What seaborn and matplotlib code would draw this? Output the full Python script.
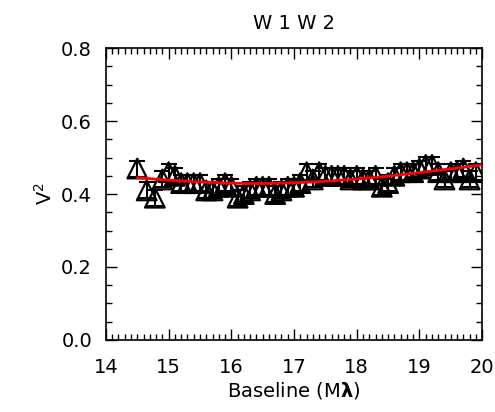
import numpy as np
import pandas as pd
import matplotlib
matplotlib.use('Agg')
import matplotlib.pyplot as plt
import seaborn as sns
from matplotlib.ticker import MultipleLocator, FormatStrFormatter

# 관측값 (baseline, V^2, 오차)
baseline = [14.50, 14.65, 14.78, 14.90, 15.00, 15.10, 15.20, 15.30, 15.40, 15.50,
            15.60, 15.70, 15.80, 15.90, 16.00, 16.10, 16.20, 16.30, 16.40, 16.50,
            16.60, 16.70, 16.80, 16.90, 17.00, 17.10, 17.20, 17.30, 17.40, 17.50,
            17.60, 17.70, 17.80, 17.90, 18.00, 18.10, 18.20, 18.30, 18.40, 18.50,
            18.60, 18.70, 18.80, 18.90, 19.00, 19.10, 19.20, 19.30, 19.40, 19.50,
            19.60, 19.70, 19.80, 19.90]
v2 = [0.47, 0.41, 0.39, 0.44, 0.46, 0.45, 0.43, 0.43, 0.43, 0.43,
      0.41, 0.41, 0.42, 0.43, 0.42, 0.39, 0.40, 0.41, 0.42, 0.42,
      0.42, 0.40, 0.41, 0.42, 0.42, 0.43, 0.46, 0.44, 0.46, 0.45,
      0.45, 0.45, 0.45, 0.44, 0.45, 0.44, 0.44, 0.45, 0.42, 0.43,
      0.45, 0.46, 0.46, 0.46, 0.47, 0.48, 0.48, 0.46, 0.44, 0.46,
      0.46, 0.47, 0.44, 0.46]
v2_err = [0.022] * len(v2)

# 모델 곡선
model_x = [14.5, 15.0, 15.5, 16.0, 16.25, 16.5, 17.0, 17.5, 18.0, 18.5, 19.0, 19.5, 20.0]
model_y = [0.445, 0.438, 0.433, 0.430, 0.429, 0.429, 0.431, 0.435, 0.441, 0.449, 0.459, 0.469, 0.480]

obs = pd.DataFrame({'baseline': baseline, 'v2': v2})
model = pd.DataFrame({'x': model_x, 'y': model_y})

sns.set_style('ticks')
plt.rcParams['font.family'] = ['DejaVu Sans']
plt.rcParams['text.color'] = 'black'
plt.rcParams['axes.labelcolor'] = 'black'
plt.rcParams['xtick.color'] = 'black'
plt.rcParams['ytick.color'] = 'black'

fig = plt.figure(figsize=(4.95, 4.12), dpi=100)
ax = fig.add_axes([0.214, 0.175, 0.76, 0.708])

ax.errorbar(baseline, v2, yerr=v2_err, fmt='none', ecolor='black',
            elinewidth=1.5, capsize=6, capthick=1.5, zorder=2)
sns.scatterplot(data=obs, x='baseline', y='v2', ax=ax, marker='^', s=200,
                facecolors='none', edgecolor='black', linewidth=1.6, zorder=3)
sns.lineplot(data=model, x='x', y='y', ax=ax, color='red', linewidth=2, zorder=4)

ax.set_xlim(14, 20)
ax.set_ylim(0, 0.8)
ax.xaxis.set_major_locator(MultipleLocator(1))
ax.xaxis.set_minor_locator(MultipleLocator(0.1))
ax.yaxis.set_major_locator(MultipleLocator(0.2))
ax.yaxis.set_minor_locator(MultipleLocator(0.05))
ax.yaxis.set_major_formatter(FormatStrFormatter('%.1f'))
ax.tick_params(which='both', direction='in', top=True, right=True, labelsize=14,
               width=1)
ax.tick_params(which='major', length=8)
ax.tick_params(axis='x', which='major', pad=13)
ax.tick_params(axis='y', which='major', pad=10)
ax.tick_params(which='minor', length=4)
for s in ax.spines.values():
    s.set_color('black')
    s.set_linewidth(1.2)

ax.set_xlabel('Baseline (M$\\mathbf{\\lambda}$)', fontsize=14, labelpad=2)
ax.set_ylabel('V$^2$', fontsize=14, labelpad=4)
ax.set_title('W 1 W 2', fontsize=14, pad=14)

fig.savefig('out.png', dpi=100)
